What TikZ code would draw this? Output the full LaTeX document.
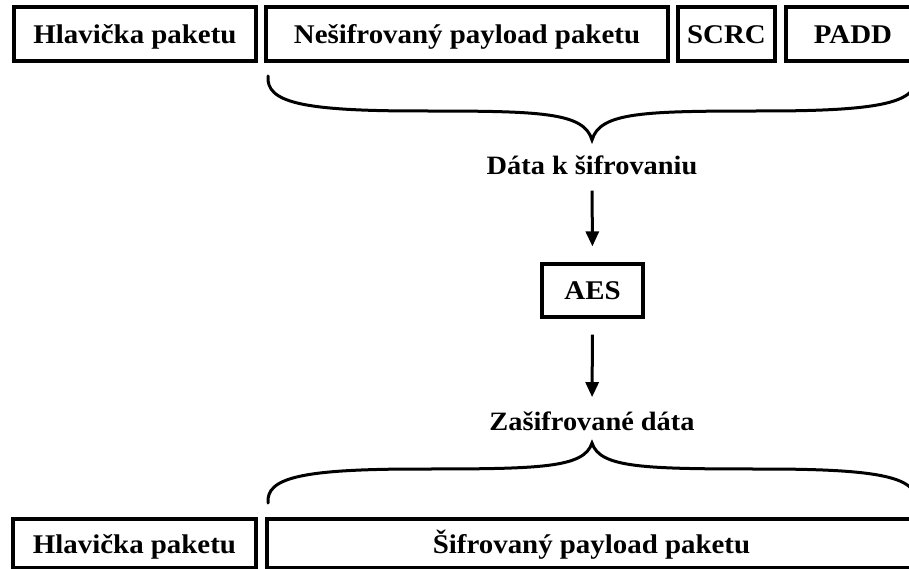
\documentclass[tikz,border=0pt]{standalone}
\usepackage{fontspec}
\setmainfont{Liberation Serif}[FakeStretch=1.07]
\usetikzlibrary{arrows.meta}
\tikzset{
  field/.style={draw, line width=3.2pt, inner sep=0pt, minimum height=54pt,
    text height=19pt, text depth=0pt,
    font=\bfseries\fontsize{27}{32}\selectfont},
  caption/.style={inner sep=0pt, anchor=base, font=\bfseries\fontsize{26.5}{31}\selectfont},
  brace/.style={line width=3pt, line cap=round},
  flow/.style={line width=3pt, -{Triangle[length=15pt,width=13pt]}}
}
\begin{document}
\begin{tikzpicture}[x=1pt,y=-1pt]
\path[use as bounding box] (0,0) rectangle (909,569);
\clip (0,0) rectangle (909,569);

% plain packet
\node[field, minimum width=242pt] (hdr1) at (135,34) {Hlavička paketu};
\node[field, minimum width=402pt] (pay1) at (467,34) {Nešifrovaný payload paketu};
\node[field, minimum width=97pt] (scrc) at (726.5,34) {SCRC};
\node[field, minimum width=134pt] (padd) at (853,34) {PADD};

% brace over the data to be encrypted
\coordinate (tb) at (592,140);
\draw[brace] (268,76) .. controls (266,102) and (300,111) .. (420,111)
  .. controls (540,111) and (584,112) .. (tb)
  .. controls (600,112) and (644,111) .. (764,111)
  .. controls (884,111) and (918,102) .. (916,76);

\node[caption] (din) at (592,175) {Dáta k šifrovaniu};
\node[field, minimum width=101pt, minimum height=53pt, text height=18pt] (aes) at (592.5,290.5) {AES};
\node[caption] (dout) at (592,430) {Zašifrované dáta};

\draw[flow, shorten <=15pt, shorten >=16pt] (din.south) -- (aes.north);
\draw[flow, shorten <=16pt, shorten >=14pt] (aes.south) -- (dout.north);

% brace under the encrypted data
\coordinate (bb) at (592,443);
\draw[brace] (268,503) .. controls (266,478) and (300,469) .. (420,469)
  .. controls (540,469) and (584,468) .. (bb)
  .. controls (600,468) and (644,469) .. (764,469)
  .. controls (884,469) and (918,478) .. (916,503);

% encrypted packet
\node[field, minimum width=243pt, minimum height=49pt] (hdr2) at (134.5,543.5) {Hlavička paketu};
\node[field, minimum width=649pt, minimum height=49pt] (pay2) at (591.5,543.5) {Šifrovaný payload paketu};
\end{tikzpicture}
\end{document}
